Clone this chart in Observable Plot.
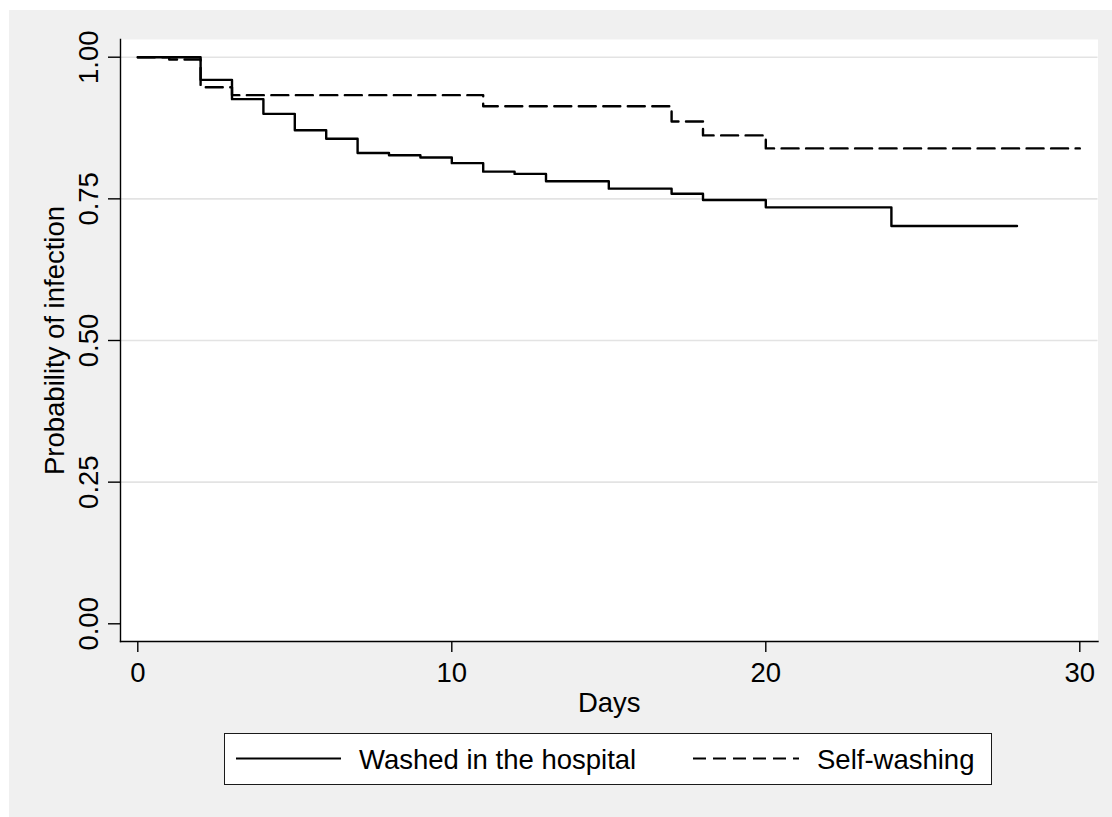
<!DOCTYPE html>
<html>
<head>
<meta charset="utf-8">
<script src="https://cdn.jsdelivr.net/npm/d3@7"></script>
<script src="https://cdn.jsdelivr.net/npm/@observablehq/plot@0.6"></script>
<style>
  html, body { margin: 0; padding: 0; background: #ffffff; }
  #wrap { position: absolute; left: 9px; top: 10px; width: 1103px; height: 807px; background: #f0f0f0; font-family: "Liberation Sans", Arial, sans-serif; }
  #chart svg { display: block; }
  #legend { position: absolute; left: 215px; top: 723px; width: 766px; height: 50px; border: 1.5px solid #1a1a1a; background: #ffffff; }
</style>
</head>
<body>
<div id="wrap">
  <div id="chart"></div>
  <div id="legend"></div>
</div>
<script>
// Series names
const seriesNames = ["Washed in the hospital", "Self-washing"];

// Washed in the hospital (solid)
const washedDays = [0, 2, 3, 4, 5, 6, 7, 8, 9, 10, 11, 12, 13, 15, 17, 18, 20, 24, 28];
const washedProb = [1.000, 0.960, 0.926, 0.900, 0.871, 0.856, 0.831, 0.827, 0.823, 0.813, 0.798, 0.794, 0.781, 0.768, 0.759, 0.748, 0.735, 0.702, 0.702];

// Self-washing (dashed)
const selfDays = [0, 1, 2, 3, 11, 17, 18, 20, 30];
const selfProb = [1.000, 0.996, 0.947, 0.933, 0.9135, 0.8865, 0.862, 0.839, 0.839];

// Axis ticks
const xTicks = [0, 10, 20, 30];
const yTicks = [0, 0.25, 0.5, 0.75, 1];
const gridTicks = [0.25, 0.5, 0.75, 1];

const washed = washedDays.map((d, i) => ({day: d, p: washedProb[i]}));
const selfw = selfDays.map((d, i) => ({day: d, p: selfProb[i]}));

const FS = 27.5;
const W = 1103, H = 715;
const chart = Plot.plot({
  width: W,
  height: H,
  marginLeft: 111,
  marginRight: 14.5,
  marginTop: 29,
  marginBottom: 84,
  style: {background: "transparent", fontFamily: "Liberation Sans, Arial, sans-serif", fontSize: FS + "px", color: "#000"},
  x: {domain: [0, 30], range: [128.3, 1070.3]},
  y: {domain: [0, 1], range: [613.3, 46.7]},
  marks: [
    Plot.frame({fill: "white", stroke: null}),
    Plot.gridY(gridTicks, {stroke: "#e3e3e3", strokeOpacity: 1, strokeWidth: 1.6}),
    Plot.line(washed, {x: "day", y: "p", curve: "step-after", stroke: "#000", strokeWidth: 2.4}),
    Plot.line(selfw, {x: "day", y: "p", curve: "step-after", stroke: "#000", strokeWidth: 2.4, strokeDasharray: "17,7.5"}),
    Plot.frame({anchor: "left", stroke: "#000", strokeWidth: 1.4}),
    Plot.frame({anchor: "bottom", stroke: "#000", strokeWidth: 1.4}),
    Plot.axisY({ticks: yTicks, tickFormat: d3.format(".2f"), tickSize: 12, tickPadding: 11, tickRotate: -90, label: null, stroke: "#000", strokeWidth: 1.4, fill: "#000", fontSize: FS}),
    Plot.axisX({ticks: xTicks, tickFormat: d3.format("d"), tickSize: 11, tickPadding: 10, label: null, stroke: "#000", strokeWidth: 1.4, fill: "#000", fontSize: FS}),
    Plot.text(["Days"], {frameAnchor: "bottom", dy: 70, lineAnchor: "bottom", textAnchor: "middle", fill: "#000", fontSize: FS}),
    Plot.text(["Probability of infection"], {frameAnchor: "left", dx: -57, rotate: -90, lineAnchor: "bottom", textAnchor: "middle", fill: "#000", fontSize: FS})
  ]
});
document.getElementById("chart").appendChild(chart);

// Legend
const lg = d3.select("#legend").append("svg").attr("width", 766).attr("height", 50).style("display", "block");
const items = [
  {name: seriesNames[0], x1: 11, x2: 116, tx: 134, dash: null},
  {name: seriesNames[1], x1: 468, x2: 574, tx: 592, dash: "13,7"}
];
items.forEach(it => {
  lg.append("line").attr("x1", it.x1).attr("x2", it.x2).attr("y1", 24.5).attr("y2", 24.5)
    .attr("stroke", "#000").attr("stroke-width", 2.2).attr("stroke-dasharray", it.dash);
  lg.append("text").attr("x", it.tx).attr("y", 35).text(it.name)
    .attr("font-family", "Liberation Sans, Arial, sans-serif").attr("font-size", 27.5).attr("fill", "#000");
});
</script>
</body>
</html>
